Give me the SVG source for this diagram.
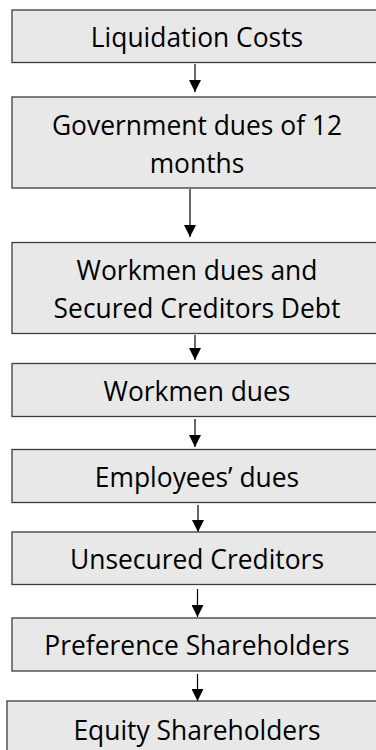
<svg xmlns="http://www.w3.org/2000/svg" width="376" height="750" viewBox="0 0 376 750">
<defs>
<style>
.box{fill:#e8e8e8;stroke:#3c3c3c;stroke-width:1.3}
.t{font-family:"Open Sans","Noto Sans","Liberation Sans",sans-serif;font-size:26.4px;fill:#000;text-anchor:middle}
.c{stroke:#000;stroke-width:1.2;fill:none}
</style>
<marker id="ah" markerWidth="12" markerHeight="12" refX="12" refY="6" orient="auto" markerUnits="userSpaceOnUse" viewBox="0 0 12 12">
<path d="M0,0 L12,6 L0,12 Z" fill="#000"/>
</marker>
</defs>
<rect width="376" height="750" fill="#fff"/>
<g id="connectors">
<line class="c" x1="195" y1="64" x2="195" y2="92" marker-end="url(#ah)"/>
<line class="c" x1="190" y1="189" x2="190" y2="237" marker-end="url(#ah)"/>
<line class="c" x1="195" y1="335" x2="195" y2="360" marker-end="url(#ah)"/>
<line class="c" x1="195" y1="419" x2="195" y2="447" marker-end="url(#ah)"/>
<line class="c" x1="198" y1="505" x2="198" y2="532" marker-end="url(#ah)"/>
<line class="c" x1="197.5" y1="589" x2="197.5" y2="617" marker-end="url(#ah)"/>
<line class="c" x1="197.5" y1="674" x2="197.5" y2="701" marker-end="url(#ah)"/>
</g>
<g id="n1"><rect class="box" x="12" y="10" width="372" height="52.5"/><text class="t" x="197" y="46.5">Liquidation Costs</text></g>
<g id="n2"><rect class="box" x="12" y="97" width="372" height="91"/><text class="t" x="197" y="135">Government dues of 12</text><text class="t" x="197" y="173">months</text></g>
<g id="n3"><rect class="box" x="12" y="242.5" width="372" height="91"/><text class="t" x="197" y="280">Workmen dues and</text><text class="t" x="197" y="318">Secured Creditors Debt</text></g>
<g id="n4"><rect class="box" x="12" y="363.5" width="372" height="53"/><text class="t" x="197" y="400.5">Workmen dues</text></g>
<g id="n5"><rect class="box" x="12" y="449.5" width="372" height="53"/><text class="t" x="197" y="486.5">Employees’ dues</text></g>
<g id="n6"><rect class="box" x="12" y="532" width="372" height="52.5"/><text class="t" x="197" y="568.5">Unsecured Creditors</text></g>
<g id="n7"><rect class="box" x="12" y="618" width="372" height="53"/><text class="t" x="197" y="654.5">Preference Shareholders</text></g>
<g id="n8"><rect class="box" x="7" y="701" width="380" height="70"/><text class="t" x="197" y="740">Equity Shareholders</text></g>
</svg>
